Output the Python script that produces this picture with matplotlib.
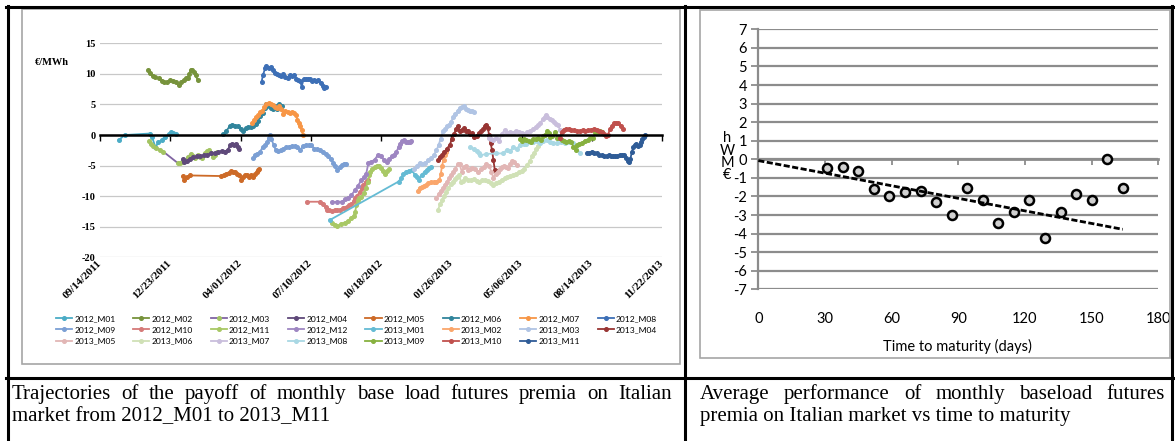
import numpy as np
import pandas as pd
import matplotlib
matplotlib.use("Agg")
import matplotlib.pyplot as plt
import matplotlib.dates as mdates
from matplotlib.lines import Line2D
from matplotlib.patches import Rectangle

plt.rcParams["axes.unicode_minus"] = False

# ---- left panel: premia trajectories (x = days after the start date) ----
start_date = "2011-09-14"
date_tick_labels = ["09/14/2011", "12/23/2011", "04/01/2012", "07/10/2012", "10/18/2012",
                    "01/26/2013", "05/06/2013", "08/14/2013", "11/22/2013"]

contract_names = ["2012_M01", "2012_M02", "2012_M03", "2012_M04", "2012_M05", "2012_M06",
                  "2012_M07", "2012_M08", "2012_M09", "2012_M10", "2012_M11", "2012_M12",
                  "2013_M01", "2013_M02", "2013_M03", "2013_M04", "2013_M05", "2013_M06",
                  "2013_M07", "2013_M08", "2013_M09", "2013_M10", "2013_M11"]

contract_days = [
    [27, 35, 71, 74, 79, 83, 88, 92, 98, 101, 104, 108],
    [69, 71, 75, 79, 84, 88, 91, 95, 100, 104, 108, 112, 116, 119, 122, 125, 127, 129, 131, 134, 136, 139],
    [70, 72, 76, 80, 85, 90, 111, 114, 117, 121, 125, 129, 132, 135, 139, 142, 145, 149, 152, 155, 158, 161, 164, 166],
    [118, 120, 124, 128, 133, 138, 143, 148, 153, 158, 163, 168, 173, 178, 182, 185, 188, 191, 194, 196, 198],
    [118, 120, 124, 128, 172, 176, 180, 183, 186, 189, 192, 195, 198, 201, 203, 206, 209, 212, 215, 218, 221, 223, 225, 227],
    [175, 180, 185, 188, 192, 197, 201, 204, 208, 211, 215, 218, 222, 225, 228, 232, 235, 237, 240, 243, 246, 249, 252, 255, 257, 259],
    [216, 219, 222, 225, 228, 231, 234, 237, 240, 243, 246, 249, 252, 255, 258, 261, 264, 267, 270, 273, 276, 279, 281, 283, 285, 287, 289],
    [230, 232, 235, 237, 240, 243, 246, 249, 252, 255, 258, 261, 264, 267, 270, 273, 276, 279, 282, 285, 287, 290, 293, 296, 299, 302, 305, 308, 311, 314, 317, 319, 321],
    [218, 221, 224, 228, 232, 235, 238, 240, 242, 244, 247, 250, 253, 257, 261, 265, 269, 273, 277, 281, 285, 289, 293, 297, 301, 305, 309, 313, 317, 321, 325, 329, 332, 335, 338, 341, 344, 347, 350],
    [294, 313, 318, 321, 323, 326, 330, 334, 338, 342, 346, 349, 352, 355, 358, 361, 363, 366, 370, 373, 375, 378, 381],
    [330, 334, 338, 343, 349, 353, 357, 361, 363, 365, 367, 369, 372, 376, 379, 381, 383, 385, 387, 391, 394, 397, 400, 403, 406, 409, 412],
    [330, 337, 344, 349, 353, 358, 363, 367, 372, 376, 379, 382, 386, 391, 396, 400, 404, 408, 412, 415, 419, 422, 425, 427, 430, 433, 436, 439, 441, 443],
    [327, 425, 429, 432, 436, 440, 444, 448, 451, 454, 458, 462, 465, 468, 471],
    [452, 455, 458, 461, 464, 467, 471, 475, 479, 483, 485, 487, 489, 491, 493],
    [447, 451, 455, 459, 463, 467, 471, 475, 479, 482, 485, 488, 491, 494, 497, 500, 503, 506, 509, 512, 515, 518, 521, 524, 527, 530, 532],
    [481, 484, 487, 490, 494, 498, 501, 504, 507, 510, 512, 515, 518, 521, 524, 527, 530, 533, 536, 539, 542, 545, 548, 550, 552, 554, 556, 558, 560, 562],
    [479, 482, 485, 488, 491, 494, 497, 500, 503, 506, 509, 512, 515, 518, 521, 524, 527, 530, 534, 538, 542, 546, 550, 554, 557, 560, 563, 566, 569, 572, 575, 578, 581, 584, 587, 590, 593],
    [481, 484, 487, 490, 493, 496, 499, 502, 505, 508, 511, 514, 517, 520, 524, 528, 532, 536, 540, 544, 548, 552, 556, 560, 564, 568, 572, 576, 580, 584, 588, 592, 596, 600, 604, 608, 612, 615, 618, 621, 624],
    [554, 557, 560, 564, 568, 572, 576, 580, 584, 588, 592, 596, 600, 604, 608, 612, 616, 620, 624, 627, 630, 633, 635, 637, 640, 643, 646, 649, 652, 655],
    [527, 532, 536, 539, 541, 550, 564, 574, 579, 584, 588, 593, 598, 603, 607, 612, 617, 622, 626, 631, 636, 640, 645, 650, 656, 662, 668, 674, 678, 683],
    [598, 601, 604, 607, 611, 614, 617, 620, 624, 628, 631, 634, 636, 639, 641, 644, 648, 651, 654, 657, 660, 664, 668, 671, 674, 677, 679, 682, 686, 690, 694, 698, 702, 705, 709, 712, 715],
    [655, 657, 660, 663, 667, 671, 675, 679, 683, 687, 691, 695, 699, 703, 707, 711, 714, 717, 720, 723, 726, 729, 732, 735, 738, 741, 744],
    [693, 696, 700, 703, 707, 711, 714, 718, 721, 724, 727, 730, 733, 736, 740, 743, 746, 749, 751, 753, 755, 757, 759, 761, 763, 766, 768, 770, 772, 774, 776],
]

contract_vals = [
    [-0.8, 0.0, 0.25, -0.3, -2.0, -1.2, -0.8, -0.3, 0.1, 0.5, 0.3, 0.1],
    [10.7, 10.2, 9.6, 9.5, 9.3, 8.9, 8.6, 8.7, 9.0, 8.8, 8.6, 8.2, 8.6, 9.0, 9.3, 9.4, 9.9, 10.7, 10.6, 10.3, 9.8, 9.0],
    [-1.0, -1.5, -1.8, -2.1, -2.4, -2.7, -4.6, -4.6, -4.4, -4.2, -3.6, -3.1, -3.5, -3.8, -3.3, -3.6, -3.7, -3.0, -2.6, -2.4, -3.0, -3.6, -3.2, -2.8],
    [-3.9, -4.4, -4.2, -3.9, -3.6, -3.5, -3.4, -3.3, -3.2, -3.0, -3.0, -2.8, -2.6, -2.7, -2.4, -1.7, -1.4, -1.6, -1.4, -1.9, -2.2],
    [-6.7, -7.3, -6.9, -6.6, -6.7, -6.6, -6.3, -6.2, -5.9, -6.1, -6.0, -6.3, -6.5, -7.3, -6.9, -6.6, -6.5, -6.8, -6.6, -6.9, -6.4, -6.0, -5.7, -5.6],
    [0.1, 0.7, 1.5, 1.7, 1.5, 1.4, 1.0, 0.7, 1.1, 1.3, 1.3, 1.4, 1.8, 2.3, 3.1, 3.6, 4.4, 5.1, 4.8, 4.4, 4.3, 4.7, 4.3, 5.0, 4.4, 4.8],
    [1.9, 2.4, 3.0, 3.3, 3.8, 4.0, 4.6, 5.0, 5.2, 5.0, 4.9, 4.6, 4.4, 4.7, 4.2, 3.5, 4.0, 3.7, 3.6, 3.8, 3.6, 3.3, 2.5, 2.0, 1.4, 0.8, 0.0],
    [8.7, 9.8, 10.9, 11.3, 11.0, 11.1, 10.6, 10.2, 9.9, 9.8, 9.6, 9.9, 9.5, 9.4, 9.8, 9.6, 9.8, 9.2, 9.0, 8.9, 7.9, 9.2, 9.1, 9.2, 9.2, 8.9, 9.0, 8.8, 9.0, 8.5, 8.0, 7.7, 7.8],
    [-3.8, -3.3, -3.1, -2.7, -1.9, -1.6, -1.2, -0.5, 0.0, -0.6, -1.6, -2.4, -2.6, -2.5, -2.2, -2.0, -1.9, -1.8, -1.8, -2.0, -2.4, -1.8, -1.6, -1.7, -1.7, -2.2, -2.3, -2.5, -2.8, -3.1, -3.5, -3.9, -4.5, -5.1, -5.7, -5.2, -4.9, -4.7, -4.8],
    [-10.9, -10.9, -11.3, -11.8, -12.2, -12.3, -12.4, -12.3, -12.2, -12.2, -12.0, -11.9, -11.7, -11.5, -11.3, -10.8, -10.3, -9.9, -9.3, -8.6, -8.2, -7.6, -7.3],
    [-14.4, -14.7, -14.9, -14.5, -14.3, -14.0, -13.6, -13.2, -12.6, -11.5, -10.6, -10.3, -10.2, -9.4, -8.6, -7.6, -6.5, -6.0, -5.5, -5.3, -5.1, -5.1, -5.4, -5.8, -6.3, -5.8, -5.6],
    [-11.0, -10.9, -10.9, -10.5, -10.3, -9.8, -9.0, -8.3, -7.4, -6.9, -6.3, -4.6, -4.4, -4.0, -3.2, -3.5, -4.0, -4.4, -3.9, -3.5, -3.2, -2.7, -2.0, -1.4, -0.9, -0.8, -1.1, -1.2, -1.1, -0.9],
    [-13.9, -7.6, -7.0, -6.3, -6.0, -5.8, -5.7, -6.5, -6.8, -7.3, -6.5, -6.0, -5.7, -5.4, -5.2],
    [-9.2, -8.6, -8.5, -8.4, -8.2, -7.9, -7.7, -7.7, -7.6, -7.4, -6.4, -5.0, -4.0, -3.3, -2.7],
    [-5.6, -5.1, -4.5, -4.7, -4.6, -4.1, -3.8, -3.3, -2.5, -1.6, -0.6, 0.6, 1.0, 1.4, 1.7, 2.2, 3.0, 3.4, 4.0, 4.4, 4.6, 4.7, 4.3, 4.1, 3.9, 4.0, 3.8],
    [-4.1, -3.6, -3.2, -2.8, -2.2, -1.6, -0.6, 0.2, 1.0, 1.5, 0.6, 0.8, 1.1, 0.7, 0.7, 0.2, 0.3, -0.3, -0.1, 0.3, 0.6, 1.0, 1.4, 1.7, 1.1, 0.0, -1.3, -2.4, -4.1, -5.7],
    [-10.3, -9.6, -9.2, -8.7, -8.1, -7.6, -7.0, -6.5, -6.0, -5.5, -4.8, -4.8, -6.0, -5.3, -5.0, -5.7, -5.5, -5.4, -5.5, -6.1, -5.6, -5.3, -4.7, -5.0, -6.0, -7.0, -6.3, -6.0, -5.6, -5.3, -5.1, -5.2, -5.4, -4.8, -4.3, -4.4, -4.9],
    [-12.3, -11.3, -10.6, -9.9, -9.3, -8.7, -8.0, -7.6, -7.2, -6.9, -6.6, -7.6, -7.5, -7.1, -7.3, -7.4, -7.2, -7.5, -7.6, -7.4, -7.3, -7.5, -7.9, -8.2, -7.8, -7.6, -7.3, -7.1, -6.8, -6.7, -6.5, -6.3, -6.1, -5.8, -5.5, -4.9, -4.2, -3.5, -2.9, -2.3, -1.8],
    [-0.5, -0.7, -0.8, -0.5, -1.0, 0.2, 0.8, 0.3, 0.5, 0.4, 0.7, 0.5, 0.4, 0.1, 0.5, 0.6, 1.0, 1.3, 1.7, 2.0, 2.6, 3.0, 3.3, 3.0, 2.7, 2.4, 2.2, 1.8, 1.6, 0.8],
    [-1.9, -2.3, -2.6, -3.0, -3.3, -3.1, -3.0, -3.0, -2.4, -2.6, -2.0, -2.2, -1.7, -1.5, -1.4, -1.2, -1.2, -0.9, -1.3, -0.9, -0.8, -1.1, -1.3, -1.3, -1.2, -1.3, -1.2, -1.3, -1.8, -3.0],
    [-0.6, -0.9, -0.7, -0.8, -1.0, -1.1, -0.6, -0.7, -0.5, -0.8, -0.2, 0.0, 0.6, 0.3, -0.3, -0.2, 0.5, -0.4, -0.5, -0.8, -0.9, -1.1, -1.0, -1.2, -1.9, -2.4, -1.7, -1.4, -1.3, -0.9, -0.8, -0.5, -0.4, 0.5, 0.4, 0.6, 0.5],
    [-0.4, 0.5, 0.9, 1.0, 1.0, 0.9, 0.8, 0.7, 0.6, 0.8, 0.7, 0.8, 0.9, 1.0, 0.9, 0.7, 0.5, 0.1, -0.2, 0.0, 1.0, 1.5, 1.9, 2.0, 1.9, 1.5, 1.0],
    [-2.9, -3.0, -2.7, -3.0, -3.0, -3.2, -3.3, -3.4, -3.4, -3.3, -3.5, -3.4, -3.5, -3.4, -3.3, -3.2, -3.3, -3.7, -4.2, -4.4, -3.9, -2.8, -2.0, -1.6, -1.5, -1.8, -1.6, -1.1, -0.7, -0.3, 0.0],
]

line_colors = ["#4BACC6", "#77933C", "#8064A2", "#5F497A", "#CD6A27", "#31859C",
               "#F79646", "#3D6FB6", "#7B9FD4", "#D57A78", "#A8C865", "#9E86C2",
               "#64BBD4", "#FAA66B", "#B0C4E4", "#983533", "#E2B6B5", "#D0E1B6",
               "#C9BEDC", "#A9D8E4", "#87B13F", "#C0504D", "#2F5C97"]
marker_colors = list(line_colors)
marker_colors[2] = "#A3C462"   # 2012_M03: purple line, green markers

# ---- right panel: average premium vs time to maturity ----
maturity_days = [31, 38, 45, 52, 59, 66, 73, 80, 87, 94, 101, 108, 115, 122, 129, 136, 143, 150, 157, 164]
avg_premium = [-0.48, -0.39, -0.63, -1.62, -1.99, -1.74, -1.72, -2.32, -2.98, -1.53,
               -2.19, -3.41, -2.85, -2.19, -4.22, -2.84, -1.87, -2.19, 0.02, -1.53]
trend_days = [0, 164]
trend_premium = [-0.07, -3.77]

caption_left = ["Trajectories of the payoff of monthly base load futures premia on Italian",
                "market from 2012_M01 to 2013_M11"]
caption_right = ["Average performance of monthly baseload futures",
                 "premia on Italian market vs time to maturity"]

W, H = 1175, 441
fig = plt.figure(figsize=(W / 100, H / 100), dpi=100)


def px_box(l, t, r, b):
    return [l / W, 1 - b / H, (r - l) / W, (b - t) / H]


serif_bold = dict(family="Liberation Serif", weight="bold", size=7.5)

# left chart
ax = fig.add_axes(px_box(100, 43.3, 662, 257.4))
t0 = pd.Timestamp(start_date)
for name, d, v, lc, mc in zip(contract_names, contract_days, contract_vals, line_colors, marker_colors):
    x = mdates.date2num(t0 + pd.to_timedelta(d, unit="D"))
    ax.plot(x, v, color=lc, lw=1.3, marker="o", ms=2.6, mfc=mc, mec=mc, label=name)

tick_x = mdates.date2num(pd.to_datetime(date_tick_labels, format="%m/%d/%Y"))
ax.set_xlim(tick_x[0], tick_x[-1])
ax.set_ylim(-20, 15)
ax.set_yticks(range(-20, 16, 5))
ax.grid(axis="y", color="#C8C8C8", lw=0.9)
ax.set_axisbelow(True)
for s in ["top", "right", "left"]:
    ax.spines[s].set_visible(False)
ax.spines["bottom"].set_position(("data", 0))
ax.spines["bottom"].set_linewidth(1.8)
ax.set_xticks(tick_x)
ax.tick_params(axis="x", length=4, width=1, labelbottom=False)
ax.tick_params(axis="y", length=0, pad=3)
for lab in ax.get_yticklabels():
    lab.set(**serif_bold)
ax.set_ylabel("€/MWh", rotation=0, ha="center", va="center", **serif_bold)
ax.yaxis.set_label_coords(-0.085, 0.91)

sec = ax.secondary_xaxis(0)
sec.set_xticks(tick_x, labels=date_tick_labels)
sec.tick_params(length=0, pad=3)
sec.spines["bottom"].set_visible(False)
for lab in sec.get_xticklabels():
    lab.set(rotation=45, ha="right", va="center", rotation_mode="anchor",
            family="Liberation Serif", weight="bold", size=8)

handles, labels = ax.get_legend_handles_labels()
order = [r * 8 + j for j in range(8) for r in range(3) if r * 8 + j < len(labels)]
fig.legend([handles[i] for i in order], [labels[i] for i in order], ncol=8,
           loc="upper left", bbox_to_anchor=(56 / W, 1 - 315 / H), frameon=False,
           prop={"family": "Lato", "size": 6.1}, handlelength=1.9, handletextpad=0.25,
           columnspacing=2.1, labelspacing=0.5, borderpad=0, borderaxespad=0)

# right chart
grey = "#8C8C8C"
ax2 = fig.add_axes(px_box(758.3, 29.3, 1158.3, 289.3))
ax2.plot(maturity_days, avg_premium, ls="none", marker="o", ms=6.5, mfc="#D0D0D0",
         mec="black", mew=1.8, zorder=3)
ax2.plot(trend_days, trend_premium, color="black", lw=2.0, ls=(0, (2.2, 0.9)), zorder=4)
ax2.set_xlim(0, 180)
ax2.set_ylim(-7, 7)
ax2.set_yticks(range(-7, 8))
ax2.set_xticks(range(0, 181, 30))
ax2.grid(axis="y", color=grey, lw=1.6)
ax2.set_axisbelow(True)
for s in ["top", "right"]:
    ax2.spines[s].set_visible(False)
ax2.spines["left"].set_color(grey)
ax2.spines["left"].set_linewidth(1.6)
ax2.spines["bottom"].set_position(("data", 0))
ax2.spines["bottom"].set_color(grey)
ax2.spines["bottom"].set_linewidth(2.0)
ax2.tick_params(axis="y", length=5, width=1.3, color=grey, pad=3, labelsize=10.5,
                labelfontfamily="Lato")
ax2.tick_params(axis="x", length=4, width=1.3, color=grey, labelbottom=False)
sec2 = ax2.secondary_xaxis(0)
sec2.set_xticks(range(0, 181, 30))
sec2.tick_params(length=0, pad=16, labelsize=10.5, labelfontfamily="Lato")
sec2.spines["bottom"].set_visible(False)
ax2.set_xlabel("Time to maturity (days)", family="Lato", size=10.5, va="center")
ax2.xaxis.set_label_coords(0.497, -0.218)
ax2.set_ylabel("h\nW\nM\n€", rotation=0, family="Lato", size=10.5, ha="center",
               va="center", linespacing=0.85)
ax2.yaxis.set_label_coords(-0.078, 0.509)

# table frame and chart boxes
tf = fig.transFigure
fig.add_artist(Rectangle((22 / W, 1 - 364 / H), (680 - 22) / W, (364 - 9) / H,
                         transform=tf, fill=False, ec="#A6A6A6", lw=1.2))
fig.add_artist(Rectangle((700 / W, 1 - 358 / H), (1170 - 700) / W, (358 - 10) / H,
                         transform=tf, fill=False, ec="#A6A6A6", lw=1.2))
for (x0, y0, x1, y1) in [(6, 6.5, 1175, 6.5), (7.5, 6, 7.5, 441), (684.5, 6, 684.5, 441),
                         (1172, 6, 1172, 441), (6, 378, 1175, 378)]:
    fig.add_artist(Line2D([x0 / W, x1 / W], [1 - y0 / H, 1 - y1 / H], transform=tf,
                          color="black", lw=2.2))

# captions, first line justified
cap_font = dict(family="Liberation Serif", size=15, va="baseline")
renderer = fig.canvas.get_renderer()


def place_caption(lines, x0, x1, y0, dy):
    for i, line in enumerate(lines):
        y = 1 - (y0 + i * dy) / H
        if i == len(lines) - 1:
            fig.text(x0 / W, y, line, **cap_font)
            continue
        words = line.split()
        texts = [fig.text(0, y, w, **cap_font) for w in words]
        widths = [t.get_window_extent(renderer).width for t in texts]
        gap = (x1 - x0 - sum(widths)) / (len(words) - 1)
        x = x0
        for t, w in zip(texts, widths):
            t.set_x(x / W)
            x += w + gap


place_caption(caption_left, 12, 672, 399, 22)
place_caption(caption_right, 700, 1165, 399, 22)

fig.savefig("out.png", dpi=100)
